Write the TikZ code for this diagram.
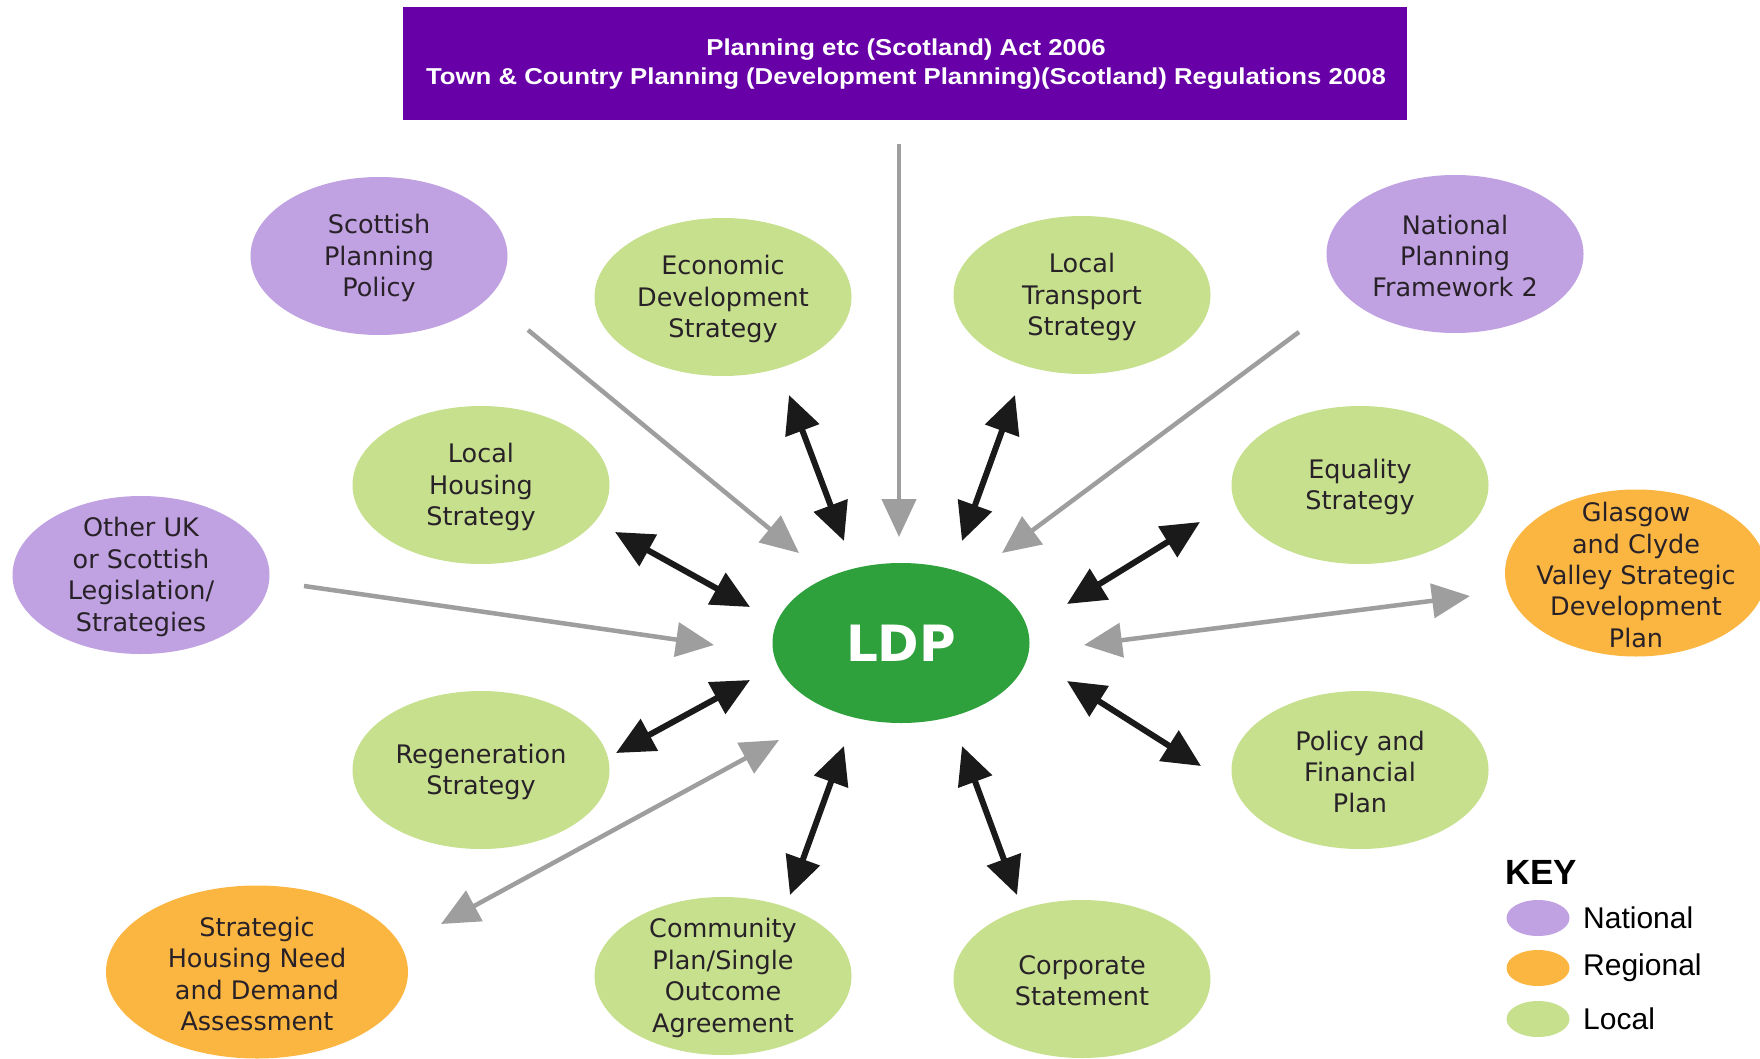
\documentclass[tikz,border=0pt]{standalone}
\usepackage{fontspec}
\setmainfont{DejaVu Sans}
\newfontfamily\arialfont{Liberation Sans}
\newfontfamily\titlefont{Liberation Sans}[FakeStretch=1.12]
\newfontfamily\vfont{DejaVu Sans}
\usetikzlibrary{shapes.geometric,arrows.meta}
\definecolor{titlepurple}{RGB}{104,0,168}
\definecolor{natcol}{RGB}{192,162,226}
\definecolor{loccol}{RGB}{198,224,142}
\definecolor{regcol}{RGB}{251,182,66}
\definecolor{ldpcol}{RGB}{46,160,60}
\definecolor{grayarr}{RGB}{158,158,158}
\definecolor{blackarr}{RGB}{26,26,26}
\definecolor{txtcol}{RGB}{40,34,40}
\tikzset{
  ell/.style={ellipse, minimum width=257pt, minimum height=158pt, inner sep=0pt},
  natell/.style={ell, fill=natcol},
  locell/.style={ell, fill=loccol},
  regell/.style={ell, fill=regcol},
  etxt/.style={inner sep=0pt, align=center, text=txtcol, yshift=-2pt, font=\vfont\fontsize{25.5}{31.4}\selectfont},
  keyell/.style={ellipse, minimum width=63pt, minimum height=36pt, inner sep=0pt},
  keytxt/.style={anchor=west, inner sep=0pt, font=\arialfont\fontsize{30}{34}\selectfont, text=black},
  grayone/.style={draw=grayarr, line width=4.5pt, -{Triangle[length=38pt,width=34pt]}, grayarr},
  graytwo/.style={draw=grayarr, line width=4.5pt, {Triangle[length=38pt,width=34pt]}-{Triangle[length=38pt,width=34pt]}, grayarr},
  blacktwo/.style={draw=blackarr, line width=6pt, {Triangle[length=38pt,width=35pt]}-{Triangle[length=38pt,width=35pt]}, blackarr},
}
\begin{document}
\begin{tikzpicture}[x=1pt,y=-1pt]
\useasboundingbox (0,0) rectangle (1760,1059);
\fill[white] (0,0) rectangle (1760,1059);

% title
\node[fill=titlepurple, minimum width=1004pt, minimum height=113pt, inner sep=0pt] (title) at (905,63.5) {};
\node[text=white, align=center, inner sep=0pt, font=\titlefont\bfseries\fontsize{23}{29}\selectfont]
  (titletext) at (906,64.5) {Planning etc (Scotland) Act 2006\\Town \& Country Planning (Development Planning)(Scotland) Regulations 2008};

% ellipses
\node[natell] (spp) at (379,256) {};
\node[locell] (eds) at (723,297) {};
\node[locell] (lts) at (1082,295) {};
\node[natell] (npf) at (1455,254) {};
\node[locell] (lhs) at (481,485) {};
\node[locell] (eqs) at (1360,485) {};
\node[natell] (ouk) at (141,575) {};
\node[regell, minimum width=262pt, minimum height=167pt] (gcv) at (1636,573) {};
\node[locell] (rgs) at (481,770) {};
\node[locell] (pfp) at (1360,770) {};
\node[regell, minimum width=302pt, minimum height=173pt] (shn) at (257,972) {};
\node[locell] (cps) at (723,976) {};
\node[locell] (cst) at (1082,979) {};
\node[ellipse, fill=ldpcol, minimum width=257pt, minimum height=160pt, inner sep=0pt,
  text=white, font=\vfont\bfseries\fontsize{50}{56}\selectfont] (ldp) at (901,643) {LDP};

% ellipse texts
\node[etxt] (spp-t) at (spp) {Scottish\\Planning\\Policy};
\node[etxt] (eds-t) at (eds) {Economic\\Development\\Strategy};
\node[etxt] (lts-t) at (lts) {Local\\Transport\\Strategy};
\node[etxt] (npf-t) at (npf) {National\\Planning\\Framework 2};
\node[etxt] (lhs-t) at (lhs) {Local\\Housing\\Strategy};
\node[etxt] (eqs-t) at (eqs) {Equality\\Strategy};
\node[etxt] (ouk-t) at (ouk) {Other UK\\or Scottish\\Legislation/\\Strategies};
\node[etxt] (gcv-t) at (gcv) {Glasgow\\and Clyde\\Valley Strategic\\Development\\Plan};
\node[etxt] (rgs-t) at (rgs) {Regeneration\\Strategy};
\node[etxt] (pfp-t) at (pfp) {Policy and\\Financial\\Plan};
\node[etxt] (shn-t) at (shn) {Strategic\\Housing Need\\and Demand\\Assessment};
\node[etxt] (cps-t) at (cps) {Community\\Plan/Single\\Outcome\\Agreement};
\node[etxt] (cst-t) at (cst) {Corporate\\Statement};

% arrow end coordinates
\coordinate (t1) at (899,144);   \coordinate (t2) at (899,537);
\coordinate (s1) at (528,330);   \coordinate (s2) at (799,553);
\coordinate (e1) at (789,395);   \coordinate (e2) at (844,541);
\coordinate (l1) at (1015,395);  \coordinate (l2) at (962,541);
\coordinate (n1) at (1299,332);  \coordinate (n2) at (1002,553);
\coordinate (h1) at (615,532);   \coordinate (h2) at (750,607);
\coordinate (q1) at (1200,522);  \coordinate (q2) at (1067,604);
\coordinate (o1) at (304,586);   \coordinate (o2) at (714,645);
\coordinate (g1) at (1470,596);  \coordinate (g2) at (1084,645);
\coordinate (r1) at (616,753);   \coordinate (r2) at (750,680);
\coordinate (p1) at (1201,766);  \coordinate (p2) at (1067,681);
\coordinate (a1) at (441,924);   \coordinate (a2) at (779,740);
\coordinate (c1) at (790,895);   \coordinate (c2) at (844,746);
\coordinate (k1) at (1017,895);  \coordinate (k2) at (962,746);

% arrows
\draw[grayone] (t1) -- (t2);
\draw[grayone] (s1) -- (s2);
\draw[grayone] (n1) -- (n2);
\draw[grayone] (o1) -- (o2);
\draw[graytwo] (g1) -- (g2);
\draw[graytwo] (a1) -- (a2);
\draw[blacktwo] (e1) -- (e2);
\draw[blacktwo] (l1) -- (l2);
\draw[blacktwo] (h1) -- (h2);
\draw[blacktwo] (q1) -- (q2);
\draw[blacktwo] (r1) -- (r2);
\draw[blacktwo] (p1) -- (p2);
\draw[blacktwo] (c1) -- (c2);
\draw[blacktwo] (k1) -- (k2);

% key
\node[anchor=west, inner sep=0pt, font=\arialfont\bfseries\fontsize{35}{40}\selectfont] (key) at (1505,872) {KEY};
\node[keyell, fill=natcol] (kn) at (1538,918) {};
\node[keyell, fill=regcol] (kr) at (1538,968) {};
\node[keyell, fill=loccol] (kl) at (1538,1019) {};
\node[keytxt] (knt) at (1583,918) {National};
\node[keytxt] (krt) at (1583,968) {Regional};
\node[keytxt] (klt) at (1583,1019) {Local};
\end{tikzpicture}
\end{document}
